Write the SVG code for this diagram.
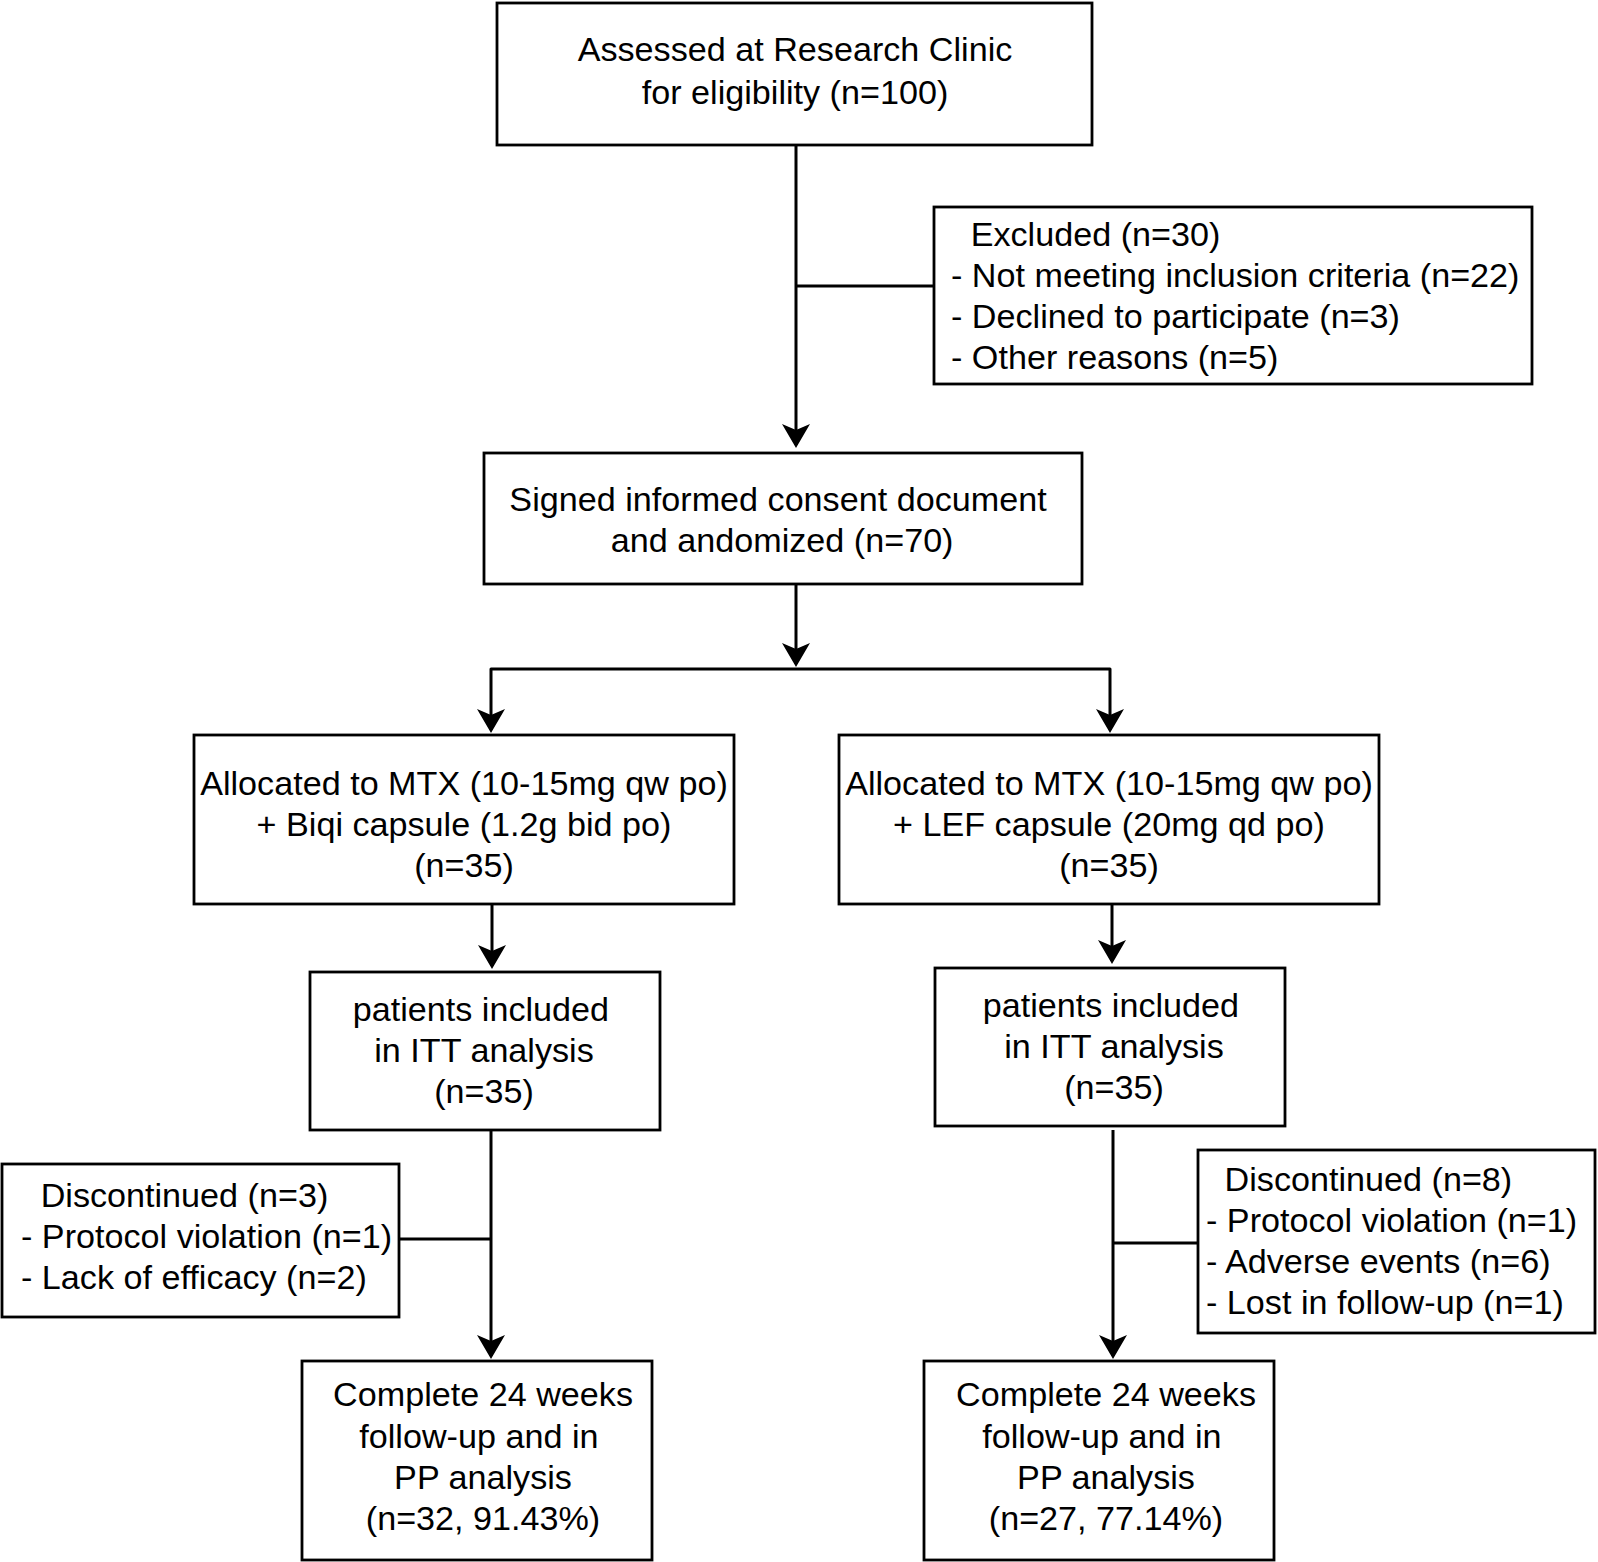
<svg xmlns="http://www.w3.org/2000/svg" width="1598" height="1562" viewBox="0 0 1598 1562">
<style>
.box{fill:#fff;stroke:#000;stroke-width:2.8}
.ln{fill:none;stroke:#000;stroke-width:3;stroke-linejoin:round}
.arr{marker-end:url(#ah)}
text{font-family:"Liberation Sans",Arial,Helvetica,sans-serif;font-size:33px;fill:#000}
.c{text-anchor:middle}
</style>
<defs>
<marker id="ah" markerUnits="userSpaceOnUse" markerWidth="30" markerHeight="32" viewBox="-25 -16 30 32" refX="0" refY="0" orient="auto">
<path d="M3,0 L-21,-14 L-15,0 L-21,14 Z" fill="#000"/>
</marker>
</defs>
<rect width="1598" height="1562" fill="#fff"/>
<g id="connectors">
<path class="ln arr" d="M796,145 V445"/>
<path class="ln" d="M796,286 H934"/>
<path class="ln arr" d="M796,584 V664"/>
<path class="ln arr" d="M796,669 H491 V730"/>
<path class="ln arr" d="M796,669 H1110 V730"/>
<path class="ln arr" d="M492,904 V966"/>
<path class="ln arr" d="M1112,904 V961"/>
<path class="ln arr" d="M491,1130 V1356"/>
<path class="ln" d="M399,1239 H491"/>
<path class="ln arr" d="M1113,1130 V1356"/>
<path class="ln" d="M1113,1243 H1198"/>
</g>
<g id="assessed">
<rect class="box" x="497" y="3" width="595" height="142"/>
<text class="c" transform="matrix(1.035 0 0 1 795 0)"><tspan x="0" y="61.5">Assessed at Research Clinic</tspan><tspan x="0" y="104.5">for eligibility (n=100)</tspan></text>
</g>
<g id="excluded">
<rect class="box" x="934" y="207" width="598" height="177"/>
<text transform="matrix(1.035 0 0 1 951 0)"><tspan x="19" y="246">Excluded (n=30)</tspan><tspan x="0" y="287.5">- Not meeting inclusion criteria (n=22)</tspan><tspan x="0" y="328.5">- Declined to participate (n=3)</tspan><tspan x="0" y="369.5">- Other reasons (n=5)</tspan></text>
</g>
<g id="randomized">
<rect class="box" x="484" y="453" width="598" height="131"/>
<text class="c" transform="matrix(1.035 0 0 1 778 0)"><tspan x="0" y="511">Signed informed consent document</tspan><tspan x="4" y="552">and andomized (n=70)</tspan></text>
</g>
<g id="alloc-biqi">
<rect class="box" x="194" y="735" width="540" height="169"/>
<text class="c" transform="matrix(1.035 0 0 1 464 0)"><tspan x="0" y="795.5">Allocated to MTX (10-15mg qw po)</tspan><tspan x="0" y="836">+ Biqi capsule (1.2g bid po)</tspan><tspan x="0" y="877.5">(n=35)</tspan></text>
</g>
<g id="alloc-lef">
<rect class="box" x="839" y="735" width="540" height="169"/>
<text class="c" transform="matrix(1.035 0 0 1 1109 0)"><tspan x="0" y="795.5">Allocated to MTX (10-15mg qw po)</tspan><tspan x="0" y="836">+ LEF capsule (20mg qd po)</tspan><tspan x="0" y="877.5">(n=35)</tspan></text>
</g>
<g id="itt-biqi">
<rect class="box" x="310" y="972" width="350" height="158"/>
<text class="c" transform="matrix(1.035 0 0 1 484 0)"><tspan x="-3" y="1021">patients included</tspan><tspan x="0" y="1062">in ITT analysis</tspan><tspan x="0" y="1103">(n=35)</tspan></text>
</g>
<g id="itt-lef">
<rect class="box" x="935" y="968" width="350" height="158"/>
<text class="c" transform="matrix(1.035 0 0 1 1114 0)"><tspan x="-3" y="1017.5">patients included</tspan><tspan x="0" y="1058">in ITT analysis</tspan><tspan x="0" y="1099.5">(n=35)</tspan></text>
</g>
<g id="disc-biqi">
<rect class="box" x="2" y="1164" width="397" height="153"/>
<text transform="matrix(1.035 0 0 1 21 0)"><tspan x="19" y="1207">Discontinued (n=3)</tspan><tspan x="0" y="1248.5">- Protocol violation (n=1)</tspan><tspan x="0" y="1289">- Lack of efficacy (n=2)</tspan></text>
</g>
<g id="disc-lef">
<rect class="box" x="1198" y="1150" width="397" height="183"/>
<text transform="matrix(1.035 0 0 1 1206 0)"><tspan x="18" y="1191">Discontinued (n=8)</tspan><tspan x="0" y="1232.5">- Protocol violation (n=1)</tspan><tspan x="0" y="1273.5">- Adverse events (n=6)</tspan><tspan x="0" y="1314.5">- Lost in follow-up (n=1)</tspan></text>
</g>
<g id="pp-biqi">
<rect class="box" x="302" y="1361" width="350" height="199"/>
<text class="c" transform="matrix(1.035 0 0 1 483 0)"><tspan x="0" y="1406.5">Complete 24 weeks</tspan><tspan x="-4" y="1448">follow-up and in</tspan><tspan x="0" y="1489">PP analysis</tspan><tspan x="0" y="1530">(n=32, 91.43%)</tspan></text>
</g>
<g id="pp-lef">
<rect class="box" x="924" y="1361" width="350" height="199"/>
<text class="c" transform="matrix(1.035 0 0 1 1106 0)"><tspan x="0" y="1406.5">Complete 24 weeks</tspan><tspan x="-4" y="1448">follow-up and in</tspan><tspan x="0" y="1489">PP analysis</tspan><tspan x="0" y="1530">(n=27, 77.14%)</tspan></text>
</g>
</svg>
